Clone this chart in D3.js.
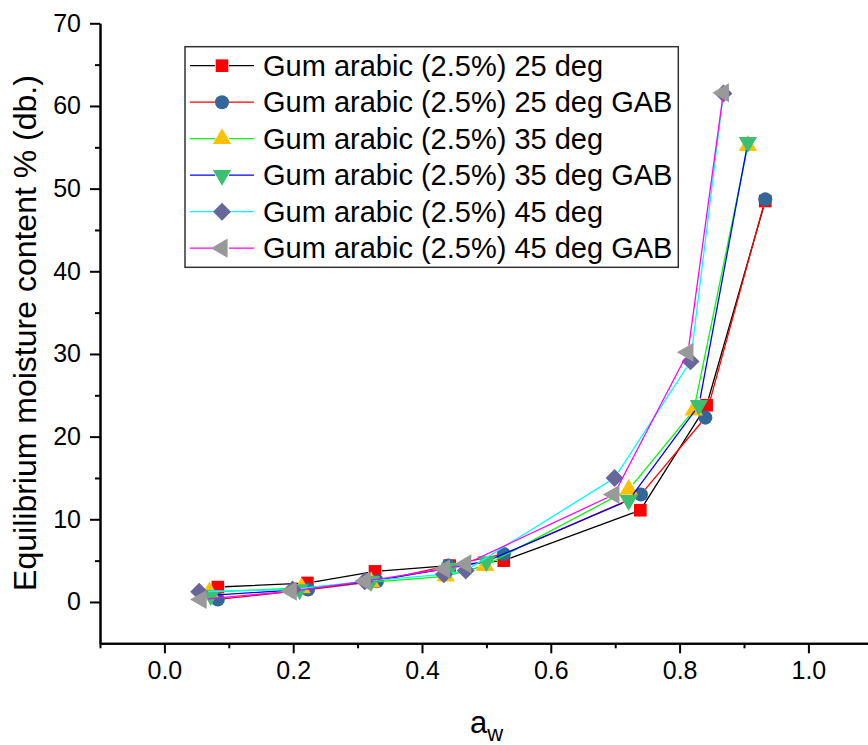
<!DOCTYPE html>
<html>
<head>
<meta charset="utf-8">
<script src="https://cdn.jsdelivr.net/npm/d3@7"></script>
<style>
  html, body { margin: 0; padding: 0; background: #fff; }
  svg { display: block; }
  text { font-family: "Liberation Sans", Arial, sans-serif; fill: #000; }
</style>
</head>
<body>
<svg id="chart" width="868" height="745"></svg>
<script>
// Water activity (a_w) and equilibrium moisture content (% db) per series
const aw25 = [0.083, 0.222, 0.327, 0.443, 0.527, 0.739, 0.842, 0.933];
const emc25 = [1.8, 2.3, 3.7, 4.4, 5.0, 11.1, 23.8, 48.5];
const aw25gab = [0.083, 0.223, 0.330, 0.441, 0.527, 0.740, 0.840, 0.933];
const emc25gab = [0.3, 1.5, 2.5, 4.4, 5.8, 13.0, 22.3, 48.7];
const aw35 = [0.070, 0.213, 0.321, 0.437, 0.498, 0.721, 0.822, 0.906];
const emc35 = [1.2, 1.7, 2.4, 3.1, 4.4, 13.6, 23.2, 55.2];
const aw35gab = [0.072, 0.210, 0.321, 0.444, 0.500, 0.721, 0.830, 0.906];
const emc35gab = [0.8, 1.5, 2.5, 4.1, 4.9, 12.3, 23.8, 55.6];
const aw45 = [0.054, 0.199, 0.311, 0.434, 0.468, 0.699, 0.817, 0.868];
const emc45 = [1.25, 1.5, 2.5, 3.35, 3.8, 15.0, 29.1, 61.5];
const aw45gab = [0.057, 0.197, 0.312, 0.435, 0.468, 0.698, 0.813, 0.868];
const emc45gab = [0.3, 1.3, 2.5, 4.0, 4.6, 13.0, 30.2, 61.6];

const seriesNames = [
  "Gum arabic (2.5%) 25 deg",
  "Gum arabic (2.5%) 25 deg GAB",
  "Gum arabic (2.5%) 35 deg",
  "Gum arabic (2.5%) 35 deg GAB",
  "Gum arabic (2.5%) 45 deg",
  "Gum arabic (2.5%) 45 deg GAB"
];

const xTickValues = [0.0, 0.2, 0.4, 0.6, 0.8, 1.0];
const yTickValues = [0, 10, 20, 30, 40, 50, 60, 70];
const xTitle = "a";
const xTitleSub = "w";
const yTitle = "Equilibrium moisture content % (db.)";

// Visual style per series: line colour, symbol fill, symbol kind
const styles = [
  { line: "#000000", fill: "#ff0000", shape: "square" },
  { line: "#ff0000", fill: "#336699", shape: "circle" },
  { line: "#00ff00", fill: "#ffc000", shape: "up" },
  { line: "#0000ff", fill: "#3cbf70", shape: "down" },
  { line: "#00ffff", fill: "#666699", shape: "diamond" },
  { line: "#ff00ff", fill: "#999999", shape: "left" }
];

const xs = [aw25, aw25gab, aw35, aw35gab, aw45, aw45gab];
const ys = [emc25, emc25gab, emc35, emc35gab, emc45, emc45gab];

const svg = d3.select("#chart");
svg.append("rect").attr("width", 868).attr("height", 745).attr("fill", "#fff");

const x = d3.scaleLinear().domain([-0.1, 1.1]).range([100, 872.8]);
const y = d3.scaleLinear().domain([-5, 70]).range([643.3, 23.3]);

// Symbol generator
function symbolPath(shape) {
  switch (shape) {
    case "square": return { d: d3.symbol(d3.symbolSquare, 160)(), rot: 0 };
    case "circle": return { d: d3.symbol(d3.symbolCircle, 155)(), rot: 0 };
    case "up": return { d: d3.symbol(d3.symbolTriangle, 145)(), rot: 0 };
    case "down": return { d: d3.symbol(d3.symbolTriangle, 145)(), rot: 180 };
    case "left": return { d: d3.symbol(d3.symbolTriangle, 160)(), rot: -90 };
    case "diamond": return { d: d3.symbol(d3.symbolSquare, 160)(), rot: 45 };
  }
}

// Polyline with small gaps around each symbol
const GAP = 7;
function gappedPath(pts) {
  const p = d3.path();
  for (let i = 0; i < pts.length - 1; i++) {
    const [x1, y1] = pts[i], [x2, y2] = pts[i + 1];
    const dx = x2 - x1, dy = y2 - y1, len = Math.hypot(dx, dy);
    if (len <= 2 * GAP) continue;
    const ux = dx / len, uy = dy / len;
    p.moveTo(x1 + ux * GAP, y1 + uy * GAP);
    p.lineTo(x2 - ux * GAP, y2 - uy * GAP);
  }
  return p.toString();
}

const plot = svg.append("g");
styles.forEach((st, i) => {
  const pts = xs[i].map((v, k) => [x(v), y(ys[i][k])]);
  const g = plot.append("g");
  g.append("path")
    .attr("d", gappedPath(pts))
    .attr("fill", "none")
    .attr("stroke", st.line)
    .attr("stroke-width", 1.3);
  const sym = symbolPath(st.shape);
  g.selectAll("path.sym").data(pts).join("path")
    .attr("class", "sym")
    .attr("d", sym.d)
    .attr("transform", d => `translate(${d[0]},${d[1]}) rotate(${sym.rot})`)
    .attr("fill", st.fill);
});

// Axes
const xAxisMajor = d3.axisBottom(x).tickValues(xTickValues).tickFormat(d3.format(".1f"))
  .tickSize(10).tickSizeOuter(0).tickPadding(8);
const xAxisMinor = d3.axisBottom(x).tickValues(d3.range(-0.1, 1.15, 0.2)).tickFormat("")
  .tickSize(5).tickSizeOuter(0);
const yAxisMajor = d3.axisLeft(y).tickValues(yTickValues).tickFormat(d3.format("d"))
  .tickSize(10).tickSizeOuter(0).tickPadding(9);
const yAxisMinor = d3.axisLeft(y).tickValues(d3.range(5, 70, 10)).tickFormat("")
  .tickSize(5).tickSizeOuter(0);

function styleAxis(g) {
  g.select(".domain").attr("stroke", "#000").attr("stroke-width", 2);
  g.selectAll(".tick line").attr("stroke", "#000").attr("stroke-width", 2);
  g.selectAll(".tick text").style("font-size", "25px")
    .style("font-family", '"Liberation Sans", Arial, sans-serif').attr("fill", "#000");
}

svg.append("g").attr("transform", "translate(0,643.3)").call(xAxisMinor).call(styleAxis);
svg.append("g").attr("transform", "translate(0,643.3)").call(xAxisMajor).call(styleAxis);
svg.append("g").attr("transform", "translate(100,0)").call(yAxisMinor).call(styleAxis);
svg.append("g").attr("transform", "translate(100,0)").call(yAxisMajor).call(styleAxis);

// Axis titles
const xt = svg.append("text").attr("x", 470).attr("y", 733)
  .style("font-size", "31px");
xt.append("tspan").text(xTitle);
xt.append("tspan").attr("dy", 8).style("font-size", "22px").text(xTitleSub);

svg.append("text")
  .attr("transform", "translate(36,333) rotate(-90)")
  .attr("text-anchor", "middle")
  .style("font-size", "32px")
  .text(yTitle);

// Legend
const lg = svg.append("g");
lg.append("rect").attr("x", 185).attr("y", 46.7).attr("width", 493.3).attr("height", 220.6)
  .attr("fill", "#fff").attr("stroke", "#333").attr("stroke-width", 1.5);
styles.forEach((st, i) => {
  const cy = 65.7 + i * 36.5;
  const row = lg.append("g");
  row.append("path")
    .attr("d", gappedPath([[190 - GAP, cy], [222, cy], [254 + GAP, cy]]))
    .attr("stroke", st.line).attr("stroke-width", 1.3).attr("fill", "none");
  const sym = symbolPath(st.shape);
  row.append("path").attr("d", sym.d)
    .attr("transform", `translate(222,${cy}) rotate(${sym.rot})`)
    .attr("fill", st.fill);
  row.append("text").attr("x", 263).attr("y", cy + 10)
    .style("font-size", "29px").text(seriesNames[i]);
});
</script>
</body>
</html>
